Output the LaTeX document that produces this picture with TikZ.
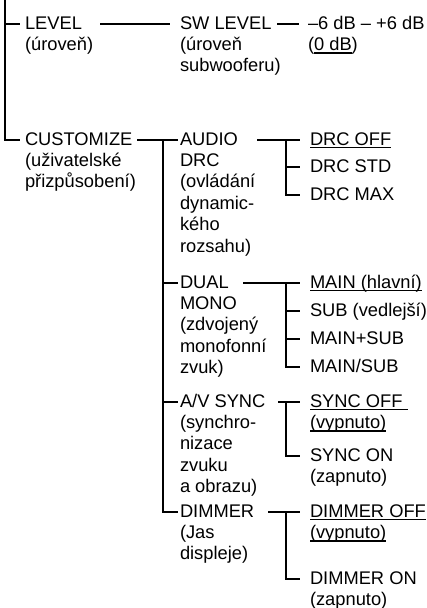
\documentclass[tikz,border=0pt]{standalone}
\usepackage{fontspec}
\setmainfont{Liberation Sans}
\newcommand\myul[1]{\setbox0\hbox{#1}\rlap{\rule[-3.4pt]{\wd0}{1.6pt}}\box0}
\newcommand\lns[1]{\begin{tabular}[t]{@{}l@{}}#1\end{tabular}}
\begin{document}
\begin{tikzpicture}[x=1pt,y=-1pt,
  txt/.style={font=\fontsize{18.3}{21.4}\selectfont, inner sep=0pt, outer sep=0pt, anchor=base west},
  ln/.style={line width=1.6pt}]
\useasboundingbox (0,0) rectangle (426,608);
% column 1
\node[txt] (level) at (25,29) {\lns{LEVEL\\(úroveň)}};
\node[txt] (cust) at (25,145) {\lns{CUSTOMIZE\\(uživatelské\\přizpůsobení)}};
% column 2
\node[txt] (sw) at (180,29) {\lns{SW LEVEL\\(úroveň\\subwooferu)}};
\node[txt] (audio) at (180,145) {\lns{AUDIO\\DRC\\(ovládání\\dynamic-\\kého\\rozsahu)}};
\node[txt] (dual) at (180,288) {\lns{DUAL\\MONO\\(zdvojený\\monofonní\\zvuk)}};
\node[txt] (av) at (180,407) {\lns{A/V SYNC\\(synchro-\\nizace\\zvuku\\a obrazu)}};
\node[txt] (dim) at (180,517) {\lns{DIMMER\\(Jas\\displeje)}};
% column 3
\node[txt] (db) at (308,29) {\lns{–6 dB – +6 dB\\(\myul{0 dB})}};
\node[txt] (drcoff) at (310,145) {\myul{DRC OFF}};
\node[txt] (drcstd) at (310,172) {DRC STD};
\node[txt] (drcmax) at (310,200) {DRC MAX};
\node[txt] (main) at (310,288) {\myul{MAIN (hlavní)}};
\node[txt] (sub) at (310,316) {SUB (vedlejší)};
\node[txt] (mainsub) at (310,344) {MAIN+SUB};
\node[txt] (mainsl) at (310,372) {MAIN/SUB};
\node[txt] (syncoff) at (310,407) {\lns{\myul{SYNC OFF\ }\\\myul{(vypnuto)}}};
\node[txt] (syncon) at (310,461) {\lns{SYNC ON\\(zapnuto)}};
\node[txt] (dimoff) at (310,517) {\lns{\myul{DIMMER OFF}\\\myul{(vypnuto)}}};
\node[txt] (dimon) at (310,584) {\lns{DIMMER ON\\(zapnuto)}};
% tick points
\foreach \n in {level,cust}{\coordinate (\n-t) at ([shift={(-5,-5)}]\n.base west);}
\foreach \n in {audio,dual,av,dim}{\coordinate (\n-t) at ([shift={(-2,-5)}]\n.base west);}
\foreach \n in {db}{\coordinate (\n-t) at ([shift={(-9,-5)}]\n.base west);}
\foreach \n in {sw}{\coordinate (\n-t) at ([shift={(-10,-5)}]\n.base west);}
\foreach \n in {drcoff,drcstd,drcmax,main,sub,mainsub,mainsl,syncoff,syncon,dimoff,dimon}{\coordinate (\n-t) at ([shift={(-10,-5)}]\n.base west);}
% main bracket
\coordinate (top) at (5,0);
\draw[ln] (top) |- (cust-t);
\draw[ln] (top |- level-t) -- (level-t);
% level -> sw level -> values
\draw[ln] ([shift={(75,-5)}]level.base west) -- (sw-t);
\draw[ln] ([shift={(97,-5)}]sw.base west) -- (db-t);
% customize -> column 2
\draw[ln] ([shift={(112,-5)}]cust.base west) -- (audio-t);
\coordinate (j2) at ([shift={(-17,-5)}]audio.base west);
\draw[ln] (j2) |- (dim-t);
\draw[ln] (j2 |- dual-t) -- (dual-t);
\draw[ln] (j2 |- av-t) -- (av-t);
% audio drc
\draw[ln] ([shift={(77,-5)}]audio.base west) -- (drcoff-t);
\coordinate (j3) at ([shift={(-24,-5)}]drcoff.base west);
\draw[ln] (j3) |- (drcmax-t);
\draw[ln] (j3 |- drcstd-t) -- (drcstd-t);
% dual mono
\draw[ln] ([shift={(63,-5)}]dual.base west) -- (main-t);
\draw[ln] (j3 |- main-t) |- (mainsl-t);
\draw[ln] (j3 |- sub-t) -- (sub-t);
\draw[ln] (j3 |- mainsub-t) -- (mainsub-t);
% av sync
\draw[ln] ([shift={(98,-5)}]av.base west) -- (syncoff-t);
\draw[ln] (j3 |- syncoff-t) |- (syncon-t);
% dimmer
\draw[ln] ([shift={(88,-5)}]dim.base west) -- (dimoff-t);
\draw[ln] (j3 |- dimoff-t) |- (dimon-t);
\end{tikzpicture}
\end{document}
